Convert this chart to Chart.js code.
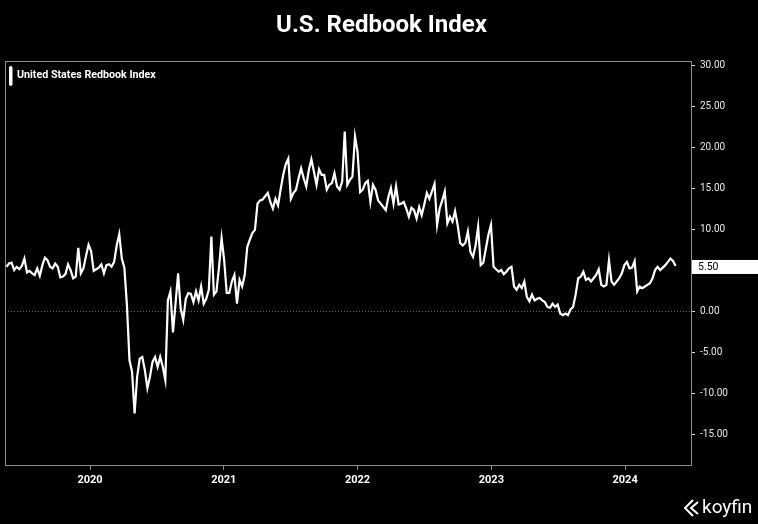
<!DOCTYPE html>
<html><head><meta charset="utf-8">
<script src="https://cdn.jsdelivr.net/npm/chart.js@4.4.1/dist/chart.umd.min.js"></script>
<style>html,body{margin:0;padding:0;background:#000;} #wrap{position:relative;width:758px;height:524px;}</style>
</head><body><div id="wrap"><canvas id="c"></canvas></div>
<script>
const chartTitle = "U.S. Redbook Index";
const seriesName = "United States Redbook Index";
const firstWeek = "2019-05-18";
const redbookValues = [
5.4, 5.8, 5.9, 5.0, 5.4, 5.1, 5.5, 6.4, 4.7, 4.9,
4.6, 4.4, 5.2, 4.3, 5.6, 6.5, 6.2, 5.4, 5.2, 5.8,
5.4, 4.1, 4.2, 4.5, 5.7, 5.0, 4.0, 4.2, 7.7, 4.6,
5.2, 6.7, 8.1, 7.3, 4.9, 5.1, 5.3, 5.7, 4.6, 5.6,
5.7, 5.4, 6.0, 8.0, 9.4, 6.4, 5.3, 0.7, -6.0, -7.4,
-12.5, -8.0,
-5.8, -5.6, -7.2, -9.4, -8.0, -6.2, -5.6, -6.8, -5.6, -6.8,
-8.4, 1.3, 2.4, -2.6, 0.9, 4.6, 0.3, -1.1, 1.5, 2.2,
2.1, 1.1, 2.4, 1.3, 3.0, 0.9, 1.5, 2.6, 9.1, 2.0,
2.4, 5.4, 8.9, 6.2, 2.2, 2.2, 3.6, 4.4, 0.9, 3.8,
3.0, 4.4, 7.8, 8.7, 9.5, 9.9, 13.1, 13.5, 13.6, 14.0,
14.4, 13.3,
12.5, 13.7, 12.9, 14.8, 16.6, 17.9, 18.6, 13.7, 14.4, 14.8,
16.2, 17.4, 16.2, 15.2, 17.2, 18.5, 17.0, 15.4, 17.3, 16.6,
16.6, 14.8, 15.4, 15.6, 16.8, 15.2, 14.8, 15.8, 21.9, 15.4,
16.0, 16.4, 21.3, 19.4, 14.5, 14.8, 15.6, 15.9, 13.3, 15.4,
14.8, 13.5, 13.1,
12.7, 12.3, 13.9, 15.0, 13.1, 15.2, 13.0, 13.1, 13.3, 12.5,
11.5, 12.6, 12.3, 11.3, 12.7, 11.7, 13.0, 14.4, 13.7, 14.6,
15.5, 10.5, 12.5, 13.5, 14.6, 10.7, 11.5, 10.9, 12.2, 10.5,
8.3, 8.0, 8.3, 9.7, 7.2, 6.6, 8.0, 10.3, 5.6, 5.9,
7.6, 9.3, 10.5, 5.4, 5.1, 4.8, 5.0, 4.5, 4.8, 5.2,
5.4, 3.0, 2.6, 3.2, 2.8, 3.6, 1.7, 1.2, 2.0, 1.3,
1.5, 1.6, 1.3, 1.1, 0.5, 0.4, 0.9, 0.5, 0.8, -0.3,
-0.5, -0.3, -0.5, 0.2, 0.5, 2.0, 4.0, 4.2, 4.8, 3.8,
4.0, 3.6, 4.0, 4.4, 5.1, 3.2, 3.0, 3.2, 6.2, 3.6,
3.2, 3.6, 4.0, 4.6, 5.6, 6.0, 5.2, 5.3, 6.1, 2.4,
3.0, 2.8, 3.0, 3.2, 3.4, 4.0, 5.0, 5.4, 5.0, 5.3,
5.6, 6.0, 6.4, 6.1, 5.5
];
const yearTicks = [2020, 2021, 2022, 2023, 2024];
const valueTicks = [-15, -10, -5, 0, 5, 10, 15, 20, 25, 30];
const lastValueLabel = "5.50";

function toDecimalYear(ms){
  const d = new Date(ms); const y = d.getUTCFullYear();
  const a = Date.UTC(y,0,1), b = Date.UTC(y+1,0,1);
  return y + (ms - a) / (b - a);
}
const startMs = Date.parse(firstWeek + "T00:00:00Z");
const weekDates = redbookValues.map((_, i) => startMs + i * 7 * 86400000);
const points = redbookValues.map((v, i) => ({x: toDecimalYear(weekDates[i]), y: v}));

Chart.defaults.font.family = "Roboto, 'Noto Sans', sans-serif";

const bgPlugin = {
  id: 'bg',
  beforeDraw(chart){
    const c = chart.ctx; c.save(); c.fillStyle = '#000';
    c.fillRect(0,0,chart.width,chart.height); c.restore();
  }
};
const framePlugin = {
  id: 'frame',
  beforeDatasetsDraw(chart){
    const a = chart.chartArea, c = chart.ctx;
    c.save(); c.strokeStyle = '#8c8c8c'; c.lineWidth = 1;
    c.strokeRect(Math.round(a.left)+0.5, Math.round(a.top)+0.5, Math.round(a.right-a.left)-1, Math.round(a.bottom-a.top)-1);
    c.restore();
  }
};
const overlayPlugin = {
  id: 'overlay',
  afterDraw(chart){
    const c = chart.ctx, a = chart.chartArea, ys = chart.scales.y;
    c.save();
    // legend marker + text
    c.fillStyle = '#fff';
    const bx = a.left + 4, by = a.top + 5, bw = 3.5, bh = 20;
    c.beginPath();
    if (c.roundRect) c.roundRect(bx, by, bw, bh, 1.75); else c.rect(bx, by, bw, bh);
    c.fill();
    c.font = "bold 10.7px Roboto, sans-serif";
    c.textBaseline = 'middle'; c.textAlign = 'left';
    c.fillText(seriesName, a.left + 12, a.top + 14.5);
    // last value badge
    const last = redbookValues[redbookValues.length - 1];
    const py = ys.getPixelForValue(last);
    c.fillStyle = '#fff';
    c.fillRect(a.right, py - 6, chart.width - a.right, 14);
    c.fillStyle = '#000';
    c.font = "10.5px Roboto, sans-serif";
    c.fillText(lastValueLabel, a.right + 6, py + 1.2);
    // koyfin logo
    c.strokeStyle = '#fff'; c.lineWidth = 2; c.lineJoin = 'miter';
    c.beginPath(); c.moveTo(693, 500); c.lineTo(685, 508); c.lineTo(693, 516); c.stroke();
    c.beginPath(); c.moveTo(698, 502); c.lineTo(691, 508); c.lineTo(698, 514); c.stroke();
    c.fillStyle = '#fff';
    c.font = "19px Roboto, sans-serif";
    c.textBaseline = 'alphabetic';
    c.fillText('koyfin', 702, 513);
    c.restore();
  }
};

new Chart(document.getElementById('c'), {
  type: 'line',
  data: {
    datasets: [{
      label: seriesName,
      data: points,
      borderColor: '#ffffff',
      backgroundColor: '#ffffff',
      borderWidth: 2.2,
      pointRadius: 0,
      tension: 0,
      fill: false
    }]
  },
  options: {
    responsive: true,
    maintainAspectRatio: false,
    animation: false,
    layout: {padding: {left: 5, right: 0, top: 0, bottom: 0}},
    plugins: {
      legend: {display: false},
      tooltip: {enabled: false},
      title: {
        display: true, text: chartTitle, color: '#ffffff',
        font: {size: 24, weight: 'bold'},
        padding: {top: 11.5, bottom: 20.7}
      }
    },
    scales: {
      x: {
        type: 'linear', position: 'bottom',
        min: 2019.3645, max: 2024.5,
        afterBuildTicks: s => { s.ticks = yearTicks.map(v => ({value: v})); },
        afterFit: s => { s.height = 58; },
        ticks: {color: '#ffffff', font: {size: 11, weight: 'bold'}, padding: 4, maxRotation: 0, autoSkip: false,
                callback: v => String(v)},
        grid: {drawOnChartArea: false, drawTicks: true, tickLength: 4, tickColor: '#8c8c8c'},
        border: {display: false}
      },
      y: {
        type: 'linear', position: 'right',
        min: -18.9, max: 30.5,
        afterBuildTicks: s => { s.ticks = valueTicks.map(v => ({value: v})); },
        afterFit: s => { s.width = 66; },
        ticks: {color: '#e8e8e8', font: {size: 10}, padding: 5, callback: v => Number(v).toFixed(2)},
        grid: {
          drawOnChartArea: true, drawTicks: true, tickLength: 3, tickColor: '#dddddd',
          color: ctx => (ctx.tick && ctx.tick.value === 0) ? '#6a6a6a' : 'rgba(0,0,0,0)'
        },
        border: {display: false, dash: [1, 2]}
      }
    }
  },
  plugins: [bgPlugin, framePlugin, overlayPlugin]
});
</script>
</body></html>
